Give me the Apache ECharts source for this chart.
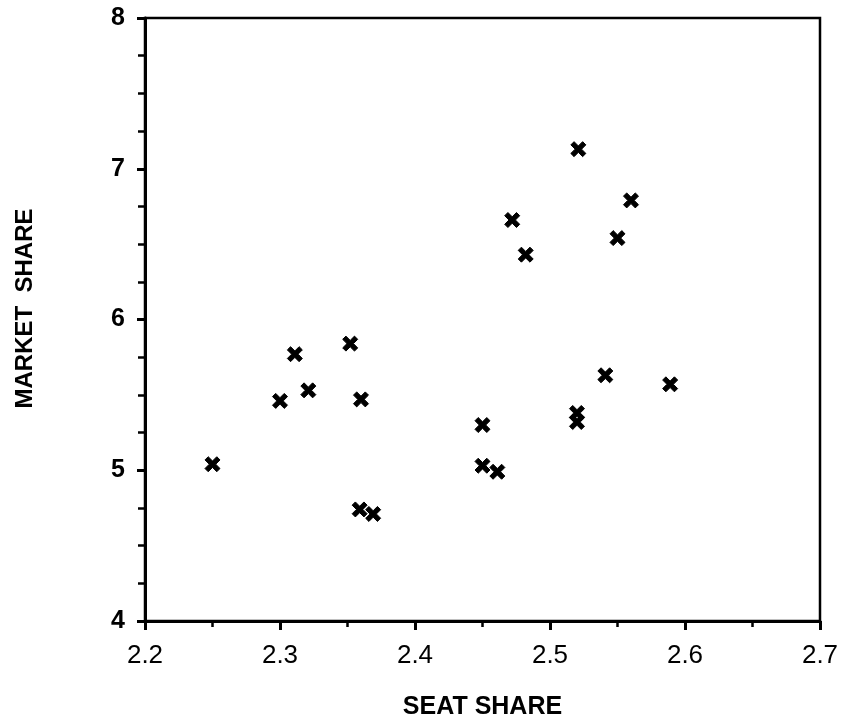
<!DOCTYPE html>
<html>
<head>
<meta charset="utf-8">
<script src="https://cdn.jsdelivr.net/npm/echarts@6/dist/echarts.min.js"></script>
<style>html,body{margin:0;padding:0;background:#fff;}#c{width:844px;height:726px;}</style>
</head>
<body>
<div id="c"></div>
<script>
const seatShare = [2.250, 2.300, 2.311, 2.321, 2.352, 2.360, 2.359, 2.369, 2.450, 2.450, 2.461, 2.472, 2.482, 2.521, 2.550, 2.560, 2.541, 2.520, 2.520, 2.589];
const marketShare = [5.04, 5.46, 5.77, 5.53, 5.84, 5.47, 4.74, 4.71, 5.30, 5.03, 4.99, 6.66, 6.43, 7.13, 6.54, 6.79, 5.63, 5.38, 5.32, 5.57];
const xTicks = [2.2, 2.3, 2.4, 2.5, 2.6, 2.7];
const yTicks = [4, 5, 6, 7, 8];

const points = seatShare.map((x, i) => [x, marketShare[i]]);
const chart = echarts.init(document.getElementById('c'));
const xMark = 'path://M0,3 L3,0 L7,4 L11,0 L14,3 L10,7 L14,11 L11,14 L7,10 L3,14 L0,11 L4,7 Z';
chart.setOption({
  animation: false,
  backgroundColor: '#fff',
  grid: { left: 145, right: 24, top: 18, bottom: 105, show: true, borderColor: '#000', borderWidth: 2.5 },
  xAxis: {
    type: 'value', min: xTicks[0], max: xTicks[xTicks.length - 1], interval: 0.1,
    name: 'SEAT SHARE', nameLocation: 'middle', nameGap: 74,
    nameTextStyle: { fontFamily: 'Liberation Sans', fontWeight: 'bold', fontSize: 25, color: '#000' },
    axisLine: { lineStyle: { color: '#000', width: 3 } },
    axisTick: { length: 9, lineStyle: { color: '#000', width: 3 } },
    minorTick: { show: true, splitNumber: 2, length: 6, lineStyle: { color: '#000', width: 2.5 } },
    splitLine: { show: false },
    axisLabel: { margin: 22, fontFamily: 'Liberation Sans', fontSize: 26, color: '#000',
      formatter: v => xTicks.find(t => Math.abs(t - v) < 1e-6) !== undefined ? v.toFixed(1) : '' }
  },
  yAxis: {
    type: 'value', min: yTicks[0], max: yTicks[yTicks.length - 1], interval: 1,
    name: 'MARKET  SHARE', nameLocation: 'middle', nameGap: 108,
    nameTextStyle: { fontFamily: 'Liberation Sans', fontWeight: 'bold', fontSize: 24, color: '#000', padding: [0, 0, 0, 22] },
    axisLine: { lineStyle: { color: '#000', width: 3 } },
    axisTick: { length: 8, lineStyle: { color: '#000', width: 3 } },
    minorTick: { show: true, splitNumber: 4, length: 7, lineStyle: { color: '#000', width: 2.5 } },
    splitLine: { show: false },
    axisLabel: { margin: 20, fontFamily: 'Liberation Sans', fontWeight: 'bold', fontSize: 25, color: '#000' }
  },
  series: [{
    type: 'scatter',
    data: points,
    symbol: xMark,
    symbolSize: 15,
    itemStyle: { color: '#000', borderColor: '#000', borderWidth: 1, opacity: 1 }
  }]
});
</script>
</body>
</html>
